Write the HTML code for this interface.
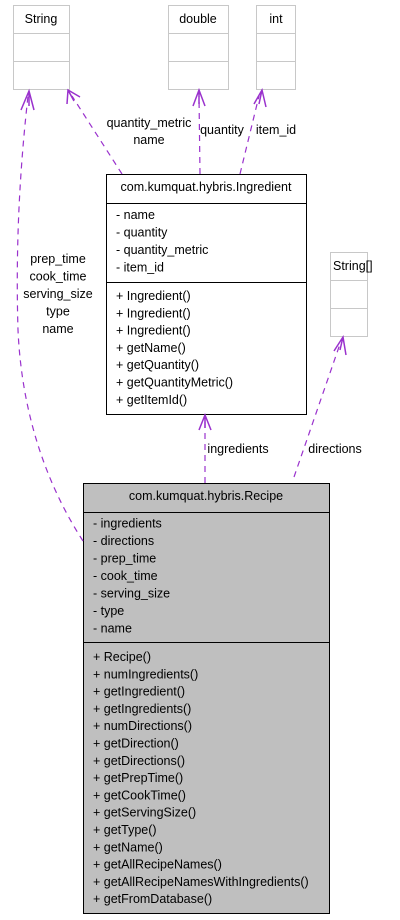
<!DOCTYPE html>
<html><head><meta charset="utf-8"><style>
html,body{margin:0;padding:0;background:#fff;width:400px;height:920px;overflow:hidden}
svg{display:block}
text{font-family:"Liberation Sans",Arial,sans-serif;font-size:12.5px;fill:#000}
.e{fill:none;stroke:#9a32cd;stroke-width:1.2;stroke-dasharray:6,5}
.a{fill:none;stroke:#9a32cd;stroke-width:1.5}
</style></head><body>
<svg width="400" height="920" viewBox="0 0 400 920">
<!-- gray type boxes -->
<g fill="#fff" stroke="#c8c8c8" stroke-width="1">
<rect x="13.5" y="5.5" width="56" height="84"/><line x1="13.5" y1="33.5" x2="69.5" y2="33.5"/><line x1="13.5" y1="61.5" x2="69.5" y2="61.5"/>
<rect x="168.5" y="5.5" width="60" height="84"/><line x1="168.5" y1="33.5" x2="228.5" y2="33.5"/><line x1="168.5" y1="61.5" x2="228.5" y2="61.5"/>
<rect x="256.5" y="5.5" width="39" height="84"/><line x1="256.5" y1="33.5" x2="295.5" y2="33.5"/><line x1="256.5" y1="61.5" x2="295.5" y2="61.5"/>
<rect x="330.5" y="252.5" width="37" height="84"/><line x1="330.5" y1="280.5" x2="367.5" y2="280.5"/><line x1="330.5" y1="308.5" x2="367.5" y2="308.5"/>
</g>
<text x="41" y="23" text-anchor="middle">String</text>
<text x="198" y="23" text-anchor="middle">double</text>
<text x="276" y="23" text-anchor="middle">int</text>
<text x="333" y="270">String[]</text>

<!-- Ingredient -->
<rect x="106.5" y="174.5" width="200" height="240" fill="#fff" stroke="#000"/>
<line x1="106.5" y1="203.5" x2="306.5" y2="203.5" stroke="#000"/>
<line x1="106.5" y1="282.5" x2="306.5" y2="282.5" stroke="#000"/>
<text x="206" y="191" text-anchor="middle">com.kumquat.hybris.Ingredient</text>
<text x="116" y="219">- name</text>
<text x="116" y="236.5">- quantity</text>
<text x="116" y="254">- quantity_metric</text>
<text x="116" y="271.5">- item_id</text>
<text x="116" y="300">+ Ingredient()</text>
<text x="116" y="317.3">+ Ingredient()</text>
<text x="116" y="334.6">+ Ingredient()</text>
<text x="116" y="351.9">+ getName()</text>
<text x="116" y="369.2">+ getQuantity()</text>
<text x="116" y="386.5">+ getQuantityMetric()</text>
<text x="116" y="403.8">+ getItemId()</text>

<!-- Recipe -->
<rect x="83.5" y="483.5" width="246" height="430" fill="#bfbfbf" stroke="#000"/>
<line x1="83.5" y1="512.5" x2="329.5" y2="512.5" stroke="#000"/>
<line x1="83.5" y1="642.5" x2="329.5" y2="642.5" stroke="#000"/>
<text x="206" y="500" text-anchor="middle">com.kumquat.hybris.Recipe</text>
<text x="93" y="527.5">- ingredients</text>
<text x="93" y="545">- directions</text>
<text x="93" y="562.5">- prep_time</text>
<text x="93" y="580">- cook_time</text>
<text x="93" y="597.5">- serving_size</text>
<text x="93" y="615">- type</text>
<text x="93" y="632.5">- name</text>
<g>
<text x="93" y="661">+ Recipe()</text>
<text x="93" y="678.3">+ numIngredients()</text>
<text x="93" y="695.6">+ getIngredient()</text>
<text x="93" y="712.9">+ getIngredients()</text>
<text x="93" y="730.2">+ numDirections()</text>
<text x="93" y="747.5">+ getDirection()</text>
<text x="93" y="764.8">+ getDirections()</text>
<text x="93" y="782.1">+ getPrepTime()</text>
<text x="93" y="799.4">+ getCookTime()</text>
<text x="93" y="816.7">+ getServingSize()</text>
<text x="93" y="834">+ getType()</text>
<text x="93" y="851.3">+ getName()</text>
<text x="93" y="868.6">+ getAllRecipeNames()</text>
<text x="93" y="885.9">+ getAllRecipeNamesWithIngredients()</text>
<text x="93" y="903.2">+ getFromDatabase()</text>
</g>

<!-- edges -->
<path class="e" d="M83,541 C50,490 22,420 18,330 C15,230 22,150 28,96"/>
<path class="a" d="M21,110 L29,91 L34,110 M29,91 L29,106"/>
<path class="e" d="M122,174 L72,96"/>
<path class="a" d="M67,104 L68,90 L80,97 M68,90 L74,101"/>
<path class="e" d="M200,174 L199,96"/>
<path class="a" d="M193,106 L199,90 L205,106 M199,90 L199,104"/>
<path class="e" d="M240,174 L259,96"/>
<path class="a" d="M254,104 L262,90 L266,107 M262,90 L259,104"/>
<path class="e" d="M205,483 L205,421"/>
<path class="a" d="M199,430 L205,415 L211,430 M205,415 L205,428"/>
<path class="e" d="M294,477 L340,344"/>
<path class="a" d="M334,351 L343,337 L346,355 M343,337 L340,350"/>

<!-- labels -->
<g text-anchor="middle">
<text x="58" y="263">prep_time</text>
<text x="58" y="280.5">cook_time</text>
<text x="58" y="298">serving_size</text>
<text x="58" y="315.5">type</text>
<text x="58" y="333">name</text>
<text x="149" y="127">quantity_metric</text>
<text x="149" y="144">name</text>
<text x="222" y="134">quantity</text>
<text x="276" y="134">item_id</text>
<text x="238" y="453">ingredients</text>
<text x="335" y="453">directions</text>
</g>
</svg>
</body></html>
